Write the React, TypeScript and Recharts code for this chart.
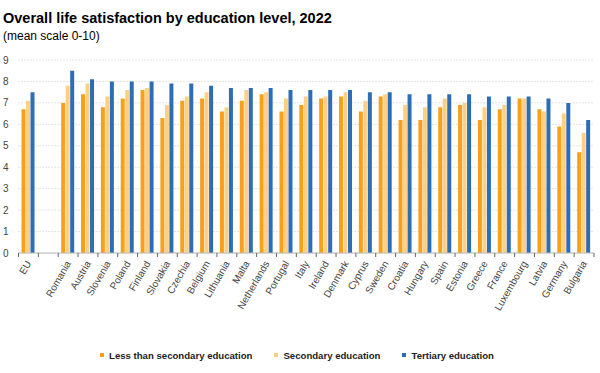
import React from "react";
import { BarChart, Bar, XAxis, YAxis, CartesianGrid, Legend } from "recharts";

const categories = [
  "EU", "", "Romania", "Austria", "Slovenia", "Poland", "Finland", "Slovakia", "Czechia",
  "Belgium", "Lithuania", "Malta", "Netherlands", "Portugal", "Italy", "Ireland", "Denmark",
  "Cyprus", "Sweden", "Croatia", "Hungary", "Spain", "Estonia", "Greece", "France",
  "Luxembourg", "Latvia", "Germany", "Bulgaria",
];

const lessThanSecondary = [
  6.7, null, 7.0, 7.4, 6.8, 7.2, 7.6, 6.3, 7.1, 7.2, 6.6, 7.1, 7.4, 6.6, 6.9, 7.2, 7.3,
  6.6, 7.3, 6.2, 6.2, 6.8, 6.9, 6.2, 6.7, 7.2, 6.7, 5.9, 4.7,
];
const secondary = [
  7.1, null, 7.8, 7.9, 7.3, 7.6, 7.7, 6.9, 7.3, 7.5, 6.8, 7.6, 7.5, 7.2, 7.3, 7.3, 7.5,
  7.1, 7.4, 6.9, 6.8, 7.2, 7.0, 6.8, 6.9, 7.2, 6.6, 6.5, 5.6,
];
const tertiary = [
  7.5, null, 8.5, 8.1, 8.0, 8.0, 8.0, 7.9, 7.9, 7.8, 7.7, 7.7, 7.7, 7.6, 7.6, 7.6, 7.6,
  7.5, 7.5, 7.4, 7.4, 7.4, 7.4, 7.3, 7.3, 7.3, 7.2, 7.0, 6.2,
];

const yTicks = [0, 1, 2, 3, 4, 5, 6, 7, 8, 9];

const seriesNames = ["Less than secondary education", "Secondary education", "Tertiary education"];
const colors = ["#F7A11A", "#FFD083", "#2D6DB5"];

const data = categories.map((name, i) => ({
  name,
  less: lessThanSecondary[i],
  sec: secondary[i],
  ter: tertiary[i],
}));

const W = 600;
const H = 373;
const PLOT_LEFT = 18.5;
const PLOT_RIGHT = 6;
const band = (W - PLOT_LEFT - PLOT_RIGHT) / categories.length;

const font = "'Liberation Sans', Arial, sans-serif";

function XTick(props: any) {
  const { x, y, payload, index } = props;
  const i = payload?.index ?? index;
  return (
    <g>
      <line x1={x - band / 2} x2={x - band / 2} y1={y} y2={y + 4} stroke="#666" strokeWidth={1} />
      {i === categories.length - 1 && (
        <line x1={x + band / 2} x2={x + band / 2} y1={y} y2={y + 4} stroke="#666" strokeWidth={1} />
      )}
      <text
        x={x + 1}
        y={y + 9}
        textAnchor="end"
        dominantBaseline="middle"
        transform={`rotate(-60, ${x + 1}, ${y + 9})`}
        fontSize={10}
        fontFamily={font}
        fill="#444"
      >
        {payload.value}
      </text>
    </g>
  );
}

function LegendContent() {
  return (
    <div
      style={{
        display: "flex",
        justifyContent: "center",
        alignItems: "center",
        height: 20,
        fontFamily: font,
        fontSize: 9.6,
        fontWeight: "bold",
        color: "#222",
      }}
    >
      {seriesNames.map((n, i) => (
        <div key={n} style={{ display: "flex", alignItems: "center", marginRight: i < 2 ? 22 : 0 }}>
          <span style={{ width: 4, height: 4, background: colors[i], display: "inline-block", marginRight: 5 }} />
          <span>{n}</span>
        </div>
      ))}
    </div>
  );
}

export default function App() {
  return (
    <div style={{ position: "absolute", left: 0, top: 0, width: W, height: H, background: "#fff" }}>
      <div
        style={{
          position: "absolute",
          left: 3,
          top: 10,
          fontFamily: font,
          fontWeight: "bold",
          fontSize: 14.5,
          color: "#000",
          whiteSpace: "nowrap",
        }}
      >
        Overall life satisfaction by education level, 2022
      </div>
      <div
        style={{
          position: "absolute",
          left: 3,
          top: 29,
          fontFamily: font,
          fontSize: 12,
          color: "#000",
          whiteSpace: "nowrap",
        }}
      >
        (mean scale 0-10)
      </div>
      <div style={{ position: "absolute", left: 0, top: 0 }}>
        <BarChart
          width={W}
          height={H}
          data={data}
          margin={{ top: 60, right: PLOT_RIGHT, left: 0, bottom: 0 }}
          barSize={4}
          barGap={0.5}
        >
          <CartesianGrid vertical={false} stroke="#c8c8c8" strokeDasharray="1 2" />
          <XAxis
            dataKey="name"
            interval={0}
            height={100}
            tickLine={false}
            tickSize={0}
            tickMargin={0}
            axisLine={{ stroke: "#bbb" }}
            tick={<XTick />}
          />
          <YAxis
            width={PLOT_LEFT}
            domain={[0, 9]}
            ticks={yTicks}
            interval={0}
            axisLine={false}
            tickLine={false}
            tickSize={0}
            tickMargin={10}
            tick={{ fontSize: 10, fill: "#444", fontFamily: font }}
          />
          <Legend verticalAlign="bottom" content={<LegendContent />} wrapperStyle={{ bottom: 8 }} />
          <Bar dataKey="less" name={seriesNames[0]} fill={colors[0]} isAnimationActive={false} />
          <Bar dataKey="sec" name={seriesNames[1]} fill={colors[1]} isAnimationActive={false} />
          <Bar dataKey="ter" name={seriesNames[2]} fill={colors[2]} isAnimationActive={false} />
        </BarChart>
      </div>
    </div>
  );
}
